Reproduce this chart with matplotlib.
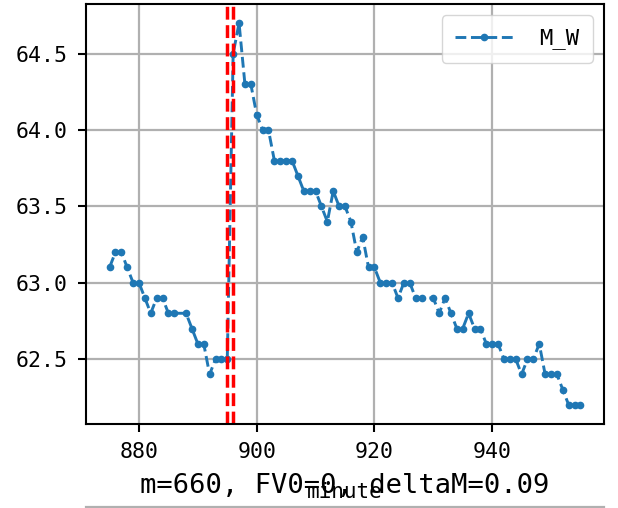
import numpy as np
import matplotlib.pyplot as plt

plt.rcParams['font.family'] = ['DejaVu Sans Mono', 'DejaVu Sans']

# minute index and M_W value
minute = [875, 876, 877, 878, 879, 880, 881, 882, 883, 884, 885, 886, 888, 889,
          890, 891, 892, 893, 894, 895, 896, 897, 898, 899, 900, 901, 902, 903,
          904, 905, 906, 907, 908, 909, 910, 911, 912, 913, 914, 915, 916, 917,
          918, 919, 920, 921, 922, 923, 924, 925, 926, 927, 928, 930, 931, 932,
          933, 934, 935, 936, 937, 938, 939, 940, 941, 942, 943, 944, 945, 946,
          947, 948, 949, 950, 951, 952, 953, 954, 955]
M_W = [63.1, 63.2, 63.2, 63.1, 63.0, 63.0, 62.9, 62.8, 62.9, 62.9, 62.8, 62.8, 62.8, 62.7,
       62.6, 62.6, 62.4, 62.5, 62.5, 62.5, 64.5, 64.7, 64.3, 64.3, 64.1, 64.0, 64.0, 63.8,
       63.8, 63.8, 63.8, 63.7, 63.6, 63.6, 63.6, 63.5, 63.4, 63.6, 63.5, 63.5, 63.4, 63.2,
       63.3, 63.1, 63.1, 63.0, 63.0, 63.0, 62.9, 63.0, 63.0, 62.9, 62.9, 62.9, 62.8, 62.9,
       62.8, 62.7, 62.7, 62.8, 62.7, 62.7, 62.6, 62.6, 62.6, 62.5, 62.5, 62.5, 62.4, 62.5,
       62.5, 62.6, 62.4, 62.4, 62.4, 62.3, 62.2, 62.2, 62.2]

# event markers (red dashed)
event_minutes = [895, 896]

x_ticks = [880, 900, 920, 940]
y_ticks = [62.5, 63.0, 63.5, 64.0, 64.5]

fig = plt.figure(figsize=(6.18, 5.08), dpi=100)
ax = fig.add_axes([86/618, 1-424/508, 518/618, 420/508])

ax.plot(minute, M_W, '--', marker='.', color='tab:blue', lw=2.1, ms=9, label='M_W')
for m in event_minutes:
    ax.axvline(m, color='r', ls='--', lw=2.5)

ax.set_xticks(x_ticks)
ax.set_yticks(y_ticks)
ax.set_yticklabels(['%.1f' % v for v in y_ticks])
ax.grid(True, color='#b0b0b0', lw=1.6)
ax.set_axisbelow(True)
ax.tick_params(labelsize=15.5, length=6, width=1.5, pad=7)
for s in ax.spines.values():
    s.set_linewidth(1.5)
ax.set_xlabel('minute', fontsize=15, labelpad=14)
ax.legend(loc='upper right', fontsize=16, handlelength=2.6, handletextpad=1.2,
          borderpad=0.6)

# next subplot (cut off at the bottom of the image)
ax2 = fig.add_axes([86/618, -0.3, 518/618, 0.3 + 1.5/508])
for k, s in ax2.spines.items():
    s.set_visible(k == 'top')
ax2.spines['top'].set_color('#b0b0b0')
ax2.spines['top'].set_linewidth(1.6)
ax2.set_xticks([])
ax2.set_yticks([])
ax2.set_title('m=660, FV0=0, deltaM=0.09', fontsize=19.5, pad=9.7)

fig.savefig('out.png', dpi=100)
